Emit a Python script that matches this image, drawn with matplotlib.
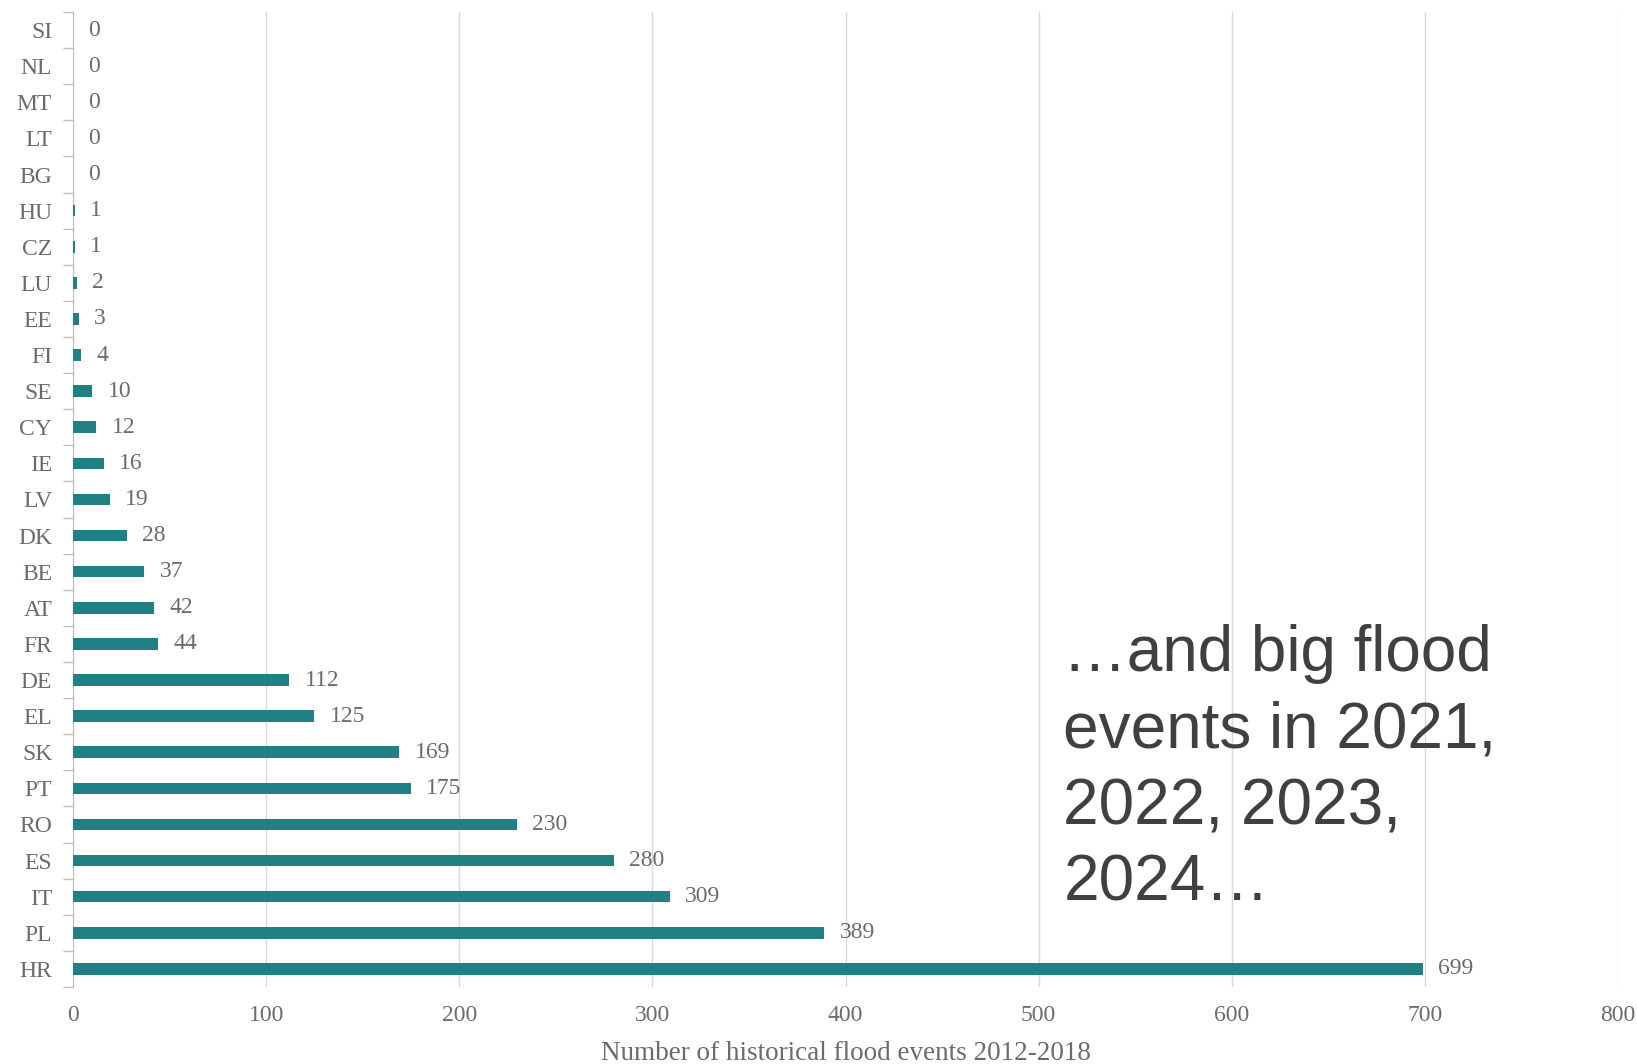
import matplotlib
matplotlib.use('Agg')
import matplotlib.pyplot as plt
import numpy as np

# countries listed top to bottom, as in the chart
countries = ['SI', 'NL', 'MT', 'LT', 'BG', 'HU', 'CZ', 'LU', 'EE', 'FI', 'SE', 'CY', 'IE', 'LV',
             'DK', 'BE', 'AT', 'FR', 'DE', 'EL', 'SK', 'PT', 'RO', 'ES', 'IT', 'PL', 'HR']
floodEvents = [0, 0, 0, 0, 0, 1, 1, 2, 3, 4, 10, 12, 16, 19,
               28, 37, 42, 44, 112, 125, 169, 175, 230, 280, 309, 389, 699]
xTicks = [0, 100, 200, 300, 400, 500, 600, 700, 800]
xLabel = 'Number of historical flood events 2012-2018'
note = '\u2026and big flood\nevents in 2021,\n2022, 2023,\n2024\u2026'

barColor = '#1f8183'
textGray = '#6b6b6b'
gridGray = '#d9d9d9'
serif = 'Liberation Serif'
labelSize = 17

fig = plt.figure(figsize=(16.37, 10.64), dpi=100)
ax = fig.add_axes([0.0446, 0.0724, 0.9438, 0.9163])

n = len(countries)
yPos = np.arange(n)[::-1]
ax.barh(yPos, floodEvents, height=0.32, color=barColor, zorder=3)

for y, v in zip(yPos, floodEvents):
    ax.annotate(str(v), (v, y), xytext=(11, 0), textcoords='offset points',
                va='center', ha='left', fontsize=labelSize, color=textGray, family=serif)

ax.set_xlim(0, 800)
ax.set_ylim(-0.5, n - 0.5)
ax.set_xticks(xTicks)
ax.set_xticklabels([str(t) for t in xTicks], fontsize=labelSize, color=textGray, family=serif)
ax.set_yticks(yPos)
ax.set_yticklabels(countries, fontsize=labelSize, color=textGray, family=serif)
ax.set_yticks(np.arange(n + 1) - 0.5, minor=True)
ax.tick_params(axis='y', which='major', length=0, pad=15)
ax.tick_params(axis='y', which='minor', length=7, color='#bfbfbf', width=1)
ax.tick_params(axis='x', length=0, pad=13)

ax.xaxis.grid(True, color=gridGray, linewidth=1, zorder=0)
for s in ['top', 'right', 'bottom']:
    ax.spines[s].set_visible(False)
ax.spines['left'].set_color('#bfbfbf')

ax.set_xlabel(xLabel, fontsize=19.5, color=textGray, family=serif, labelpad=11)

ax.text(0.641, 0.372, note, transform=ax.transAxes, fontsize=46, color='#404040',
        family='Liberation Sans', va='top', ha='left', linespacing=1.35, zorder=5)

fig.savefig('out.png', dpi=100)
